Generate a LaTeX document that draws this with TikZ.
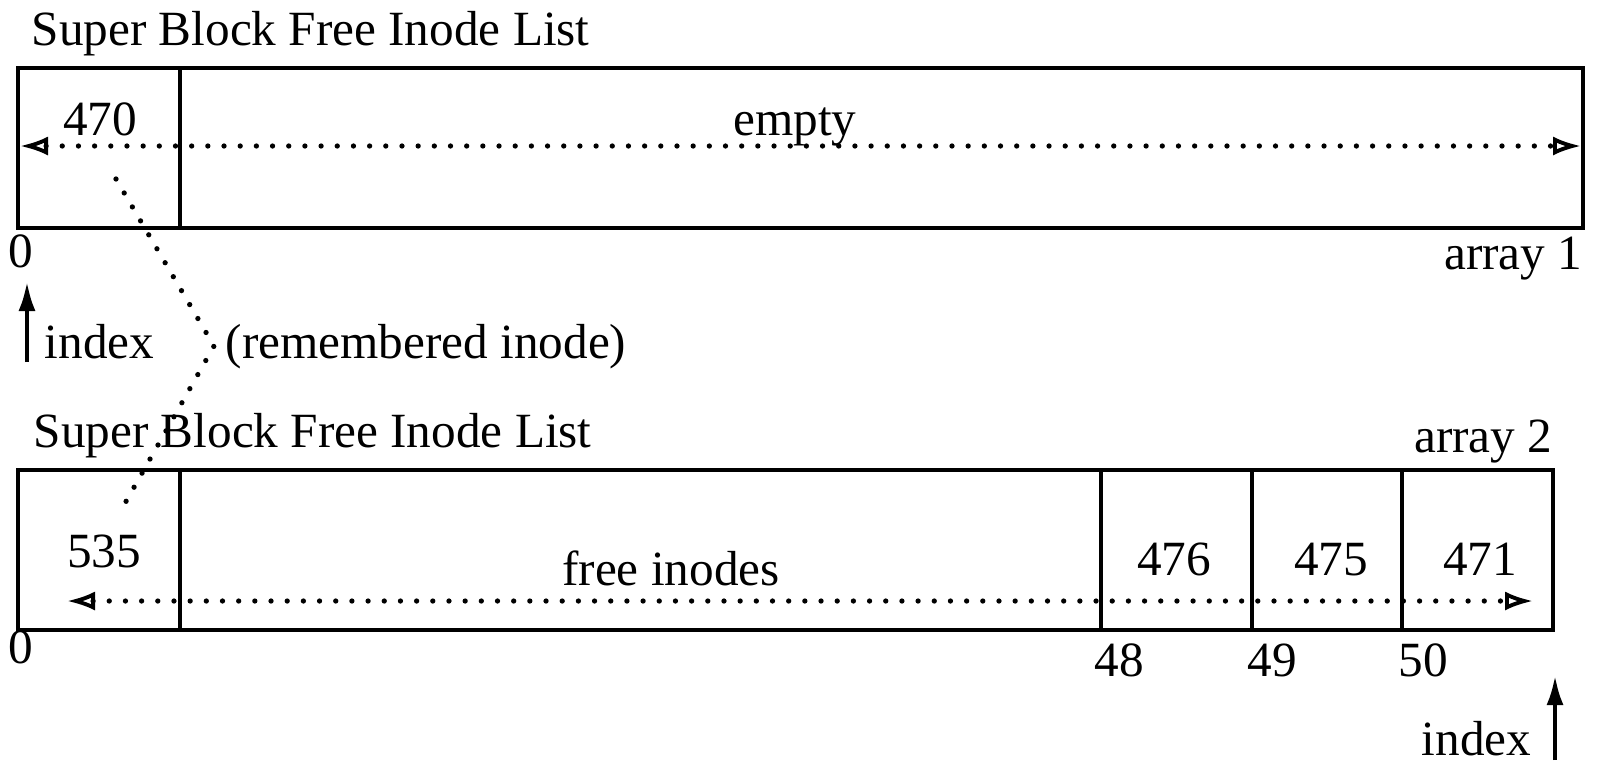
\documentclass[tikz,border=0pt]{standalone}
\usepackage{fontspec}
\setmainfont{Liberation Serif}
\usetikzlibrary{arrows.meta}

\tikzset{
  lbl/.style={inner sep=0pt, font=\fontsize{14}{16}\selectfont},
  box/.style={line width=1.3pt},
  cell/.style={line width=0.9pt},
  dots/.style={line width=1.5pt, line cap=round, dash pattern=on 0pt off 4.6pt},
  span/.style={dots, {Latex[open,line width=1.1pt,length=2.8mm,width=1.9mm]}-{Latex[open,line width=1.1pt,length=2.8mm,width=1.9mm]}},
  ptr/.style={line width=1.3pt, -{Latex[length=3mm,width=1.7mm]}},
}

\begin{document}
\begin{tikzpicture}[x=0.01cm, y=-0.01cm]
  \useasboundingbox (0,0) rectangle (1604,772);

  % array 1
  \node[lbl, anchor=base west] (title1) at (31,45) {Super Block Free Inode List};
  \draw[box] (18,68) rectangle (1583,228);
  \draw[cell] (180,68) -- (180,228);
  \node[lbl, anchor=base] (v470) at (100,135) {470};
  \node[lbl, anchor=base] (empty) at (795,135) {empty};
  \coordinate (a1l) at (20,146);
  \coordinate (a1r) at (1581,146);
  \draw[span] (a1l) -- (a1r);
  \node[lbl, anchor=base] (z1) at (21,267) {0};
  \node[lbl, anchor=base east] (arr1) at (1583,269) {array 1};
  \node[lbl, anchor=base west] (idx1) at (44,358) {index};
  \coordinate (p1a) at (27,362);
  \coordinate (p1b) at (27,281);
  \draw[ptr] (p1a) -- (p1b);

  % remembered inode
  \node[lbl, anchor=base west] (rem) at (225,358) {(remembered inode)};
  \coordinate (r0) at (116,179);
  \coordinate (rk) at (214,346);
  \coordinate (r1) at (124,505);
  \draw[dots] (r0) -- (rk) -- (r1);

  % array 2
  \node[lbl, anchor=base west] (title2) at (33,447) {Super Block Free Inode List};
  \node[lbl, anchor=base east] (arr2) at (1553,452) {array 2};
  \draw[box] (18,470) rectangle (1553,630);
  \foreach \x in {180,1101,1252,1402}
    \draw[cell] (\x,470) -- (\x,630);
  \node[lbl, anchor=base] (v535) at (104,567) {535};
  \node[lbl, anchor=base] (free) at (671,585) {free inodes};
  \foreach \x/\v in {1174/476,1331/475,1480/471}
    \node[lbl, anchor=base] (v\v) at (\x,575) {\v};
  \coordinate (a2l) at (67,601);
  \coordinate (a2r) at (1533,601);
  \draw[span] (a2l) -- (a2r);
  \node[lbl, anchor=base] (z2) at (21,663) {0};
  \foreach \x/\i in {1119/48,1272/49,1423/50}
    \node[lbl, anchor=base] (i\i) at (\x,676) {\i};
  \node[lbl, anchor=base east] (idx2) at (1532,755) {index};
  \coordinate (p2a) at (1555,760);
  \coordinate (p2b) at (1555,675);
  \draw[ptr] (p2a) -- (p2b);
\end{tikzpicture}
\end{document}
